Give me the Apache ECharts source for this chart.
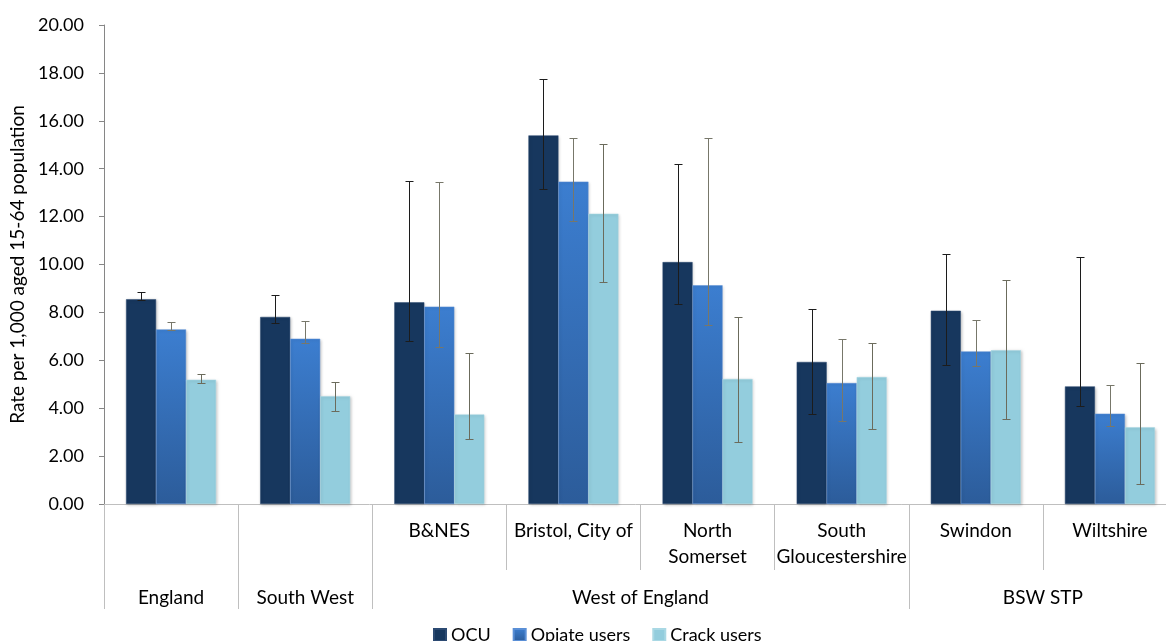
<!DOCTYPE html>
<html>
<head>
<meta charset="utf-8">
<script src="https://cdn.jsdelivr.net/npm/echarts@6/dist/echarts.min.js"></script>
<style>
  html, body { margin: 0; padding: 0; background: #fff; }
  #chart { width: 1166px; height: 641px; }
</style>
</head>
<body>
<div id="chart"></div>
<script>
// Areas (lower axis level) and the groups they sit in (upper axis level)
const areas = ['', '', 'B&NES', 'Bristol, City of', 'North\nSomerset', 'South\nGloucestershire', 'Swindon', 'Wiltshire'];
const groupNames = ['England', 'South West', 'West of England', 'BSW STP'];
const groupStart = [0, 1, 2, 6];
const groupEnd = [1, 2, 6, 8];

// Rate per 1,000 aged 15-64, with 95% confidence limits
const ocu        = [8.55, 7.81, 8.42, 15.39, 10.10, 5.93, 8.07, 4.91];
const ocuLow     = [8.50, 7.54, 6.79, 13.14, 8.34, 3.75, 5.80, 4.10];
const ocuHigh    = [8.85, 8.71, 13.50, 17.75, 14.18, 8.15, 10.44, 10.33];
const opiate     = [7.29, 6.90, 8.24, 13.46, 9.13, 5.05, 6.37, 3.77];
const opiateLow  = [7.26, 6.74, 6.54, 11.80, 7.49, 3.45, 5.77, 3.24];
const opiateHigh = [7.60, 7.63, 13.43, 15.29, 15.29, 6.90, 7.70, 4.97];
const crack      = [5.19, 4.50, 3.74, 12.12, 5.22, 5.30, 6.42, 3.20];
const crackLow   = [5.04, 3.87, 2.70, 9.26, 2.58, 3.14, 3.54, 0.84];
const crackHigh  = [5.44, 5.08, 6.29, 15.02, 7.80, 6.71, 9.37, 5.87];

const FONT = 'Lato';
const BAR_W = 30;

function ciData(low, high) {
  return low.map((l, i) => [i, l, high[i]]);
}

// Whisker drawn at the centre of the n-th bar in each cluster
function whisker(slot, color) {
  return function (params, api) {
    const i = api.value(0);
    const x = Math.round(api.coord([i, 0])[0] + (slot - 1) * BAR_W) + 0.5;
    const yLow = Math.round(api.coord([i, api.value(1)])[1]) + 0.5;
    const yHigh = Math.round(api.coord([i, api.value(2)])[1]) + 0.5;
    const cap = 4;
    const style = { stroke: color, lineWidth: 1 };
    return {
      type: 'group',
      children: [
        { type: 'line', shape: { x1: x, y1: yLow, x2: x, y2: yHigh }, style: style },
        { type: 'line', shape: { x1: x - cap, y1: yHigh, x2: x + cap, y2: yHigh }, style: style },
        { type: 'line', shape: { x1: x - cap, y1: yLow, x2: x + cap, y2: yLow }, style: style }
      ]
    };
  };
}

const barShadow = {
  shadowColor: 'rgba(0,0,0,0.22)',
  shadowBlur: 3,
  shadowOffsetX: 1,
  shadowOffsetY: 1
};

const chart = echarts.init(document.getElementById('chart'), null, { renderer: 'canvas' });

chart.setOption({
  animation: false,
  textStyle: { fontFamily: FONT },
  grid: { left: 104, top: 25, width: 1073, height: 479, containLabel: false, outerBoundsMode: 'none' },
  legend: {
    data: ['OCU', 'Opiate users', 'Crack users'],
    left: 428,
    top: 621,
    itemWidth: 12,
    itemHeight: 12,
    itemGap: 22,
    icon: 'rect',
    textStyle: { fontFamily: FONT, fontSize: 18, color: '#000' }
  },
  xAxis: [
    {
      type: 'category',
      data: areas,
      position: 'bottom',
      axisLine: { show: true, lineStyle: { color: '#bfbfbf', width: 1 } },
      axisTick: { show: true, interval: 0, length: 66, lineStyle: { color: '#bfbfbf' } },
      axisLabel: {
        interval: 0,
        margin: 14,
        fontFamily: FONT,
        fontSize: 19,
        lineHeight: 26,
        color: '#000'
      },
      splitLine: { show: false }
    },
    {
      type: 'value',
      min: 0,
      max: 8,
      position: 'bottom',
      axisLine: { show: false },
      axisTick: {
        show: true,
        length: 105,
        customValues: [0, 1, 2, 6, 8],
        lineStyle: { color: '#bfbfbf' }
      },
      axisLabel: {
        customValues: groupStart.map((s, k) => (s + groupEnd[k]) / 2),
        formatter: function (v) {
          const k = groupStart.findIndex((s, j) => (s + groupEnd[j]) / 2 === v);
          return k >= 0 ? groupNames[k] : '';
        },
        margin: 84,
        fontFamily: FONT,
        fontSize: 19,
        color: '#000'
      },
      splitLine: { show: false }
    }
  ],
  yAxis: {
    type: 'value',
    min: 0,
    max: 20,
    interval: 2,
    name: 'Rate per 1,000 aged 15-64 population',
    nameLocation: 'middle',
    nameGap: 73,
    nameTextStyle: { fontFamily: FONT, fontSize: 19, color: '#000' },
    axisLine: { show: true, lineStyle: { color: '#868686' } },
    axisTick: { show: true, length: 5, lineStyle: { color: '#868686' } },
    axisLabel: {
      margin: 20,
      fontFamily: FONT,
      fontSize: 18,
      color: '#000',
      formatter: v => v.toFixed(2)
    },
    splitLine: { show: false }
  },
  series: [
    {
      name: 'OCU',
      type: 'bar',
      data: ocu,
      barWidth: BAR_W,
      barGap: '0%',
      itemStyle: Object.assign({ color: '#17375e', borderColor: '#2c4a72', borderWidth: 0.5 }, barShadow)
    },
    {
      name: 'Opiate users',
      type: 'bar',
      data: opiate,
      barWidth: BAR_W,
      barGap: '0%',
      itemStyle: Object.assign({
        color: new echarts.graphic.LinearGradient(0, 0, 0, 1, [
          { offset: 0, color: '#3c7ed0' },
          { offset: 1, color: '#2c5c9a' }
        ]),
        borderColor: '#5a8fd6',
        borderWidth: 0.5
      }, barShadow)
    },
    {
      name: 'Crack users',
      type: 'bar',
      data: crack,
      barWidth: BAR_W,
      barGap: '0%',
      itemStyle: Object.assign({ color: '#93cddd', borderColor: '#a9d8e4', borderWidth: 0.5 }, barShadow)
    },
    {
      name: 'OCU 95% CI',
      type: 'custom',
      renderItem: whisker(0, '#1c1c1c'),
      data: ciData(ocuLow, ocuHigh),
      z: 5
    },
    {
      name: 'Opiate users 95% CI',
      type: 'custom',
      renderItem: whisker(1, '#77776a'),
      data: ciData(opiateLow, opiateHigh),
      z: 5
    },
    {
      name: 'Crack users 95% CI',
      type: 'custom',
      renderItem: whisker(2, '#6b6b5c'),
      data: ciData(crackLow, crackHigh),
      z: 5
    }
  ]
});
</script>
</body>
</html>
